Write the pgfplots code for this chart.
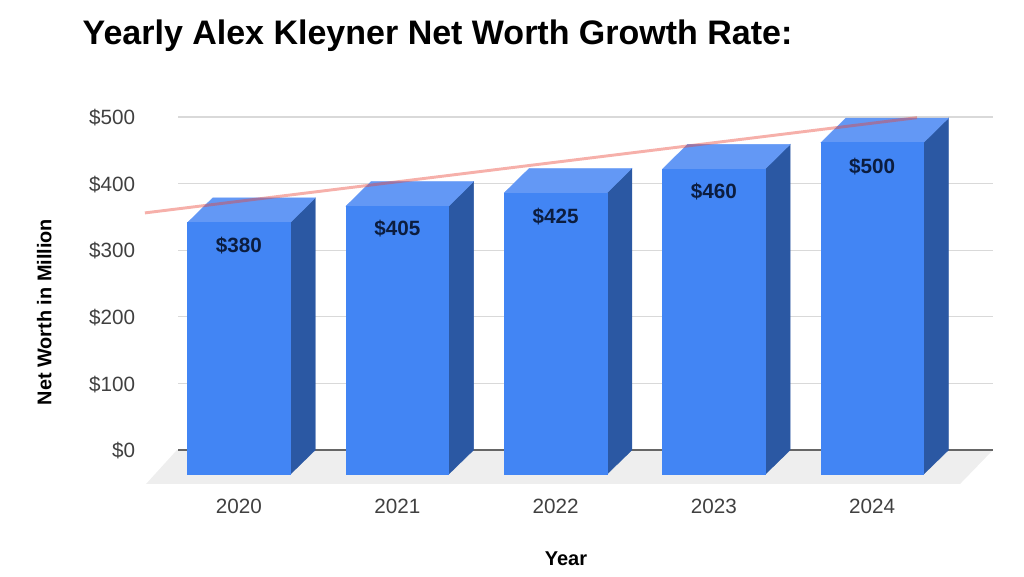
\documentclass[border=0pt]{standalone}
\usepackage{pgfplots}
\pgfplotsset{compat=1.18}
\usepackage{fontspec}
\setmainfont{Liberation Sans}

\definecolor{barfront}{HTML}{4285F4}
\definecolor{bartop}{HTML}{6398F5}
\definecolor{barside}{HTML}{2B58A3}
\definecolor{floorgrey}{HTML}{EEEEEE}
\definecolor{gridgrey}{HTML}{D9D9D9}
\definecolor{zeroline}{HTML}{666666}
\definecolor{ticktext}{HTML}{404040}
\definecolor{valtext}{HTML}{0C1D3F}
\definecolor{trend}{HTML}{EA4335}

% 1 px of the reference = 0.75pt
\begin{document}
\begin{tikzpicture}
\path[use as bounding box] (0,0) rectangle (768pt,432pt);
\begin{axis}[
  at={(133.5pt,94.5pt)}, anchor=south west,
  scale only axis, width=611.25pt, height=249.75pt,
  clip=false,
  xmin=-0.385, xmax=4.763, ymin=0, ymax=500,
  xtick={0,1,2,3,4},
  xticklabels={2020,2021,2022,2023,2024},
  ytick={0,100,200,300,400,500},
  yticklabel={\$\pgfmathprintnumber{\tick}},
  /pgf/number format/assume math mode=true,
  tick style={draw=none},
  axis line style={draw=none},
  ymajorgrids,
  grid style={gridgrey, line width=1pt},
  xticklabel style={font=\fontsize{15.5pt}{17pt}\selectfont, text=ticktext, yshift=-33pt},
  yticklabel style={font=\fontsize{15.5pt}{17pt}\selectfont, text=ticktext, xshift=-28.7pt, yshift=-0.5pt},
  title={Yearly Alex Kleyner Net Worth Growth Rate:},
  title style={at={(axis description cs:-0.1227,1.219)}, anchor=west, font=\bfseries\fontsize{25.5pt}{30pt}\selectfont},
  xlabel={Year},
  xlabel style={at={(axis description cs:0.476,-0.327)}, anchor=center, font=\bfseries\fontsize{15pt}{17pt}\selectfont},
  ylabel={Net Worth in Million},
  ylabel style={at={(axis description cs:-0.164,0.414)}, anchor=center, font=\bfseries\fontsize{14.9pt}{17pt}\selectfont},
]
% floor and zero line
\addplot[fill=floorgrey, draw=none] coordinates {(-0.587,-51) (4.555,-51) (4.763,0) (-0.392,0)} -- cycle;
\addplot[zeroline, line width=1.2pt] coordinates {(-0.385,0) (4.763,0)};

% 2020: 380
\addplot[fill=barside, draw=barside, line width=0.3pt] coordinates {(0.324,-36.5) (0.324,341.5) (0.482,378.5) (0.482,0)} -- cycle;
\addplot[fill=bartop, draw=bartop, line width=0.3pt] coordinates {(-0.324,341.5) (-0.166,378.5) (0.482,378.5) (0.324,341.5)} -- cycle;
\addplot[fill=barfront, draw=barfront, line width=0.3pt] coordinates {(-0.324,-36.5) (0.324,-36.5) (0.324,341.5) (-0.324,341.5)} -- cycle;
% 2021: 405
\addplot[fill=barside, draw=barside, line width=0.3pt] coordinates {(1.324,-36.5) (1.324,366) (1.482,403) (1.482,0)} -- cycle;
\addplot[fill=bartop, draw=bartop, line width=0.3pt] coordinates {(0.676,366) (0.834,403) (1.482,403) (1.324,366)} -- cycle;
\addplot[fill=barfront, draw=barfront, line width=0.3pt] coordinates {(0.676,-36.5) (1.324,-36.5) (1.324,366) (0.676,366)} -- cycle;
% 2022: 425
\addplot[fill=barside, draw=barside, line width=0.3pt] coordinates {(2.324,-36.5) (2.324,386) (2.482,423) (2.482,0)} -- cycle;
\addplot[fill=bartop, draw=bartop, line width=0.3pt] coordinates {(1.676,386) (1.834,423) (2.482,423) (2.324,386)} -- cycle;
\addplot[fill=barfront, draw=barfront, line width=0.3pt] coordinates {(1.676,-36.5) (2.324,-36.5) (2.324,386) (1.676,386)} -- cycle;
% 2023: 460
\addplot[fill=barside, draw=barside, line width=0.3pt] coordinates {(3.324,-36.5) (3.324,422) (3.482,459) (3.482,0)} -- cycle;
\addplot[fill=bartop, draw=bartop, line width=0.3pt] coordinates {(2.676,422) (2.834,459) (3.482,459) (3.324,422)} -- cycle;
\addplot[fill=barfront, draw=barfront, line width=0.3pt] coordinates {(2.676,-36.5) (3.324,-36.5) (3.324,422) (2.676,422)} -- cycle;
% 2024: 500
\addplot[fill=barside, draw=barside, line width=0.3pt] coordinates {(4.324,-36.5) (4.324,461.5) (4.482,498.5) (4.482,0)} -- cycle;
\addplot[fill=bartop, draw=bartop, line width=0.3pt] coordinates {(3.676,461.5) (3.834,498.5) (4.482,498.5) (4.324,461.5)} -- cycle;
\addplot[fill=barfront, draw=barfront, line width=0.3pt] coordinates {(3.676,-36.5) (4.324,-36.5) (4.324,461.5) (3.676,461.5)} -- cycle;

% trend line
\addplot[trend, opacity=0.42, line width=2.2pt] coordinates {(-0.594,356) (4.283,499)};

% value labels, sitting on the front faces
\addplot[draw=none, mark=none, point meta=explicit,
  nodes near coords={\$\pgfmathprintnumber{\pgfplotspointmeta}},
  nodes near coords style={anchor=center, inner sep=0pt, text=valtext, font=\bfseries\fontsize{15.5pt}{17pt}\selectfont},
] table[x=x, y=y, meta=v] {
x y v
0 307.5 380
1 332.5 405
2 351 425
3 387.5 460
4 425 500
};
\end{axis}
\end{tikzpicture}
\end{document}
